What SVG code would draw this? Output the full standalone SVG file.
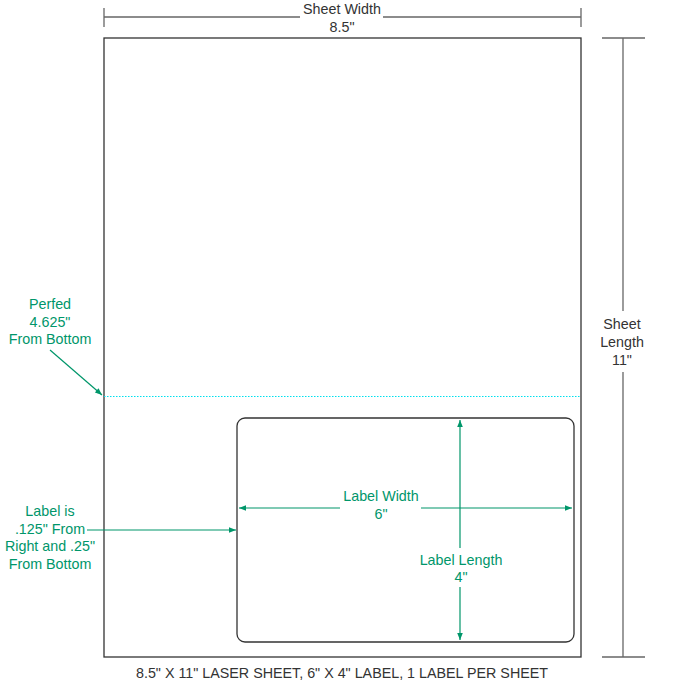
<svg xmlns="http://www.w3.org/2000/svg" width="673" height="686" viewBox="0 0 673 686">
<defs>
<style>
.dim{stroke:#666;stroke-width:1.3;fill:none}
.g{stroke:#00966a;stroke-width:1.2;fill:none}
.t{font-family:"Liberation Sans",Arial,sans-serif;font-size:14.3px;text-anchor:middle}
.tk{fill:#333}
.tg{fill:#00966a}
</style>
<marker id="ah" viewBox="0 0 10 10" refX="10" refY="5" markerWidth="9" markerHeight="7" orient="auto" markerUnits="userSpaceOnUse">
<path d="M0,1 L10,5 L0,9 Z" fill="#00966a"/>
</marker>
</defs>
<rect width="673" height="686" fill="#fff"/>
<g id="sheet">
<rect x="104" y="38" width="477" height="619" fill="#fff" stroke="#333" stroke-width="1.3"/>
</g>
<g id="perf">
<line x1="104" y1="396.5" x2="581" y2="396.5" stroke="#00e0ee" stroke-width="1.2" stroke-dasharray="1.5,1.5"/>
</g>
<g id="label">
<rect x="237" y="418" width="337" height="224" rx="8" ry="8" fill="#fff" stroke="#333" stroke-width="1.3"/>
</g>
<g id="connectors">
<line class="dim" x1="104" y1="8" x2="104" y2="27"/>
<line class="dim" x1="581" y1="8" x2="581" y2="27"/>
<line class="dim" x1="104" y1="17" x2="300" y2="17"/>
<line class="dim" x1="383" y1="17" x2="581" y2="17"/>
<line class="dim" x1="602" y1="38" x2="645" y2="38"/>
<line class="dim" x1="602" y1="657" x2="645" y2="657"/>
<line class="dim" x1="623" y1="38" x2="623" y2="311"/>
<line class="dim" x1="623" y1="372" x2="623" y2="657"/>
<line class="g" x1="50" y1="350" x2="102" y2="395" marker-end="url(#ah)"/>
<line class="g" x1="87" y1="530" x2="236" y2="530" marker-end="url(#ah)"/>
<line class="g" x1="340" y1="508" x2="239" y2="508" marker-end="url(#ah)"/>
<line class="g" x1="421" y1="508" x2="572" y2="508" marker-end="url(#ah)"/>
<line class="g" x1="460" y1="548" x2="460" y2="420" marker-end="url(#ah)"/>
<line class="g" x1="460" y1="587" x2="460" y2="640" marker-end="url(#ah)"/>
</g>
<g id="texts">
<text class="t tk" x="342" y="14">Sheet Width</text>
<text class="t tk" x="342" y="32">8.5"</text>
<text class="t tk" x="622" y="329">Sheet</text>
<text class="t tk" x="622" y="347">Length</text>
<text class="t tk" x="622" y="365">11"</text>
<text class="t tg" x="50" y="309">Perfed</text>
<text class="t tg" x="50" y="327">4.625"</text>
<text class="t tg" x="50" y="344">From Bottom</text>
<text class="t tg" x="50" y="516">Label is</text>
<text class="t tg" x="50" y="534">.125" From</text>
<text class="t tg" x="50" y="551">Right and .25"</text>
<text class="t tg" x="50" y="569">From Bottom</text>
<text class="t tg" x="381" y="501">Label Width</text>
<text class="t tg" x="381" y="519">6"</text>
<text class="t tg" x="461" y="565">Label Length</text>
<text class="t tg" x="461" y="582">4"</text>
<text class="t tk" x="342" y="678">8.5" X 11" LASER SHEET, 6" X 4" LABEL, 1 LABEL PER SHEET</text>
</g>
</svg>
